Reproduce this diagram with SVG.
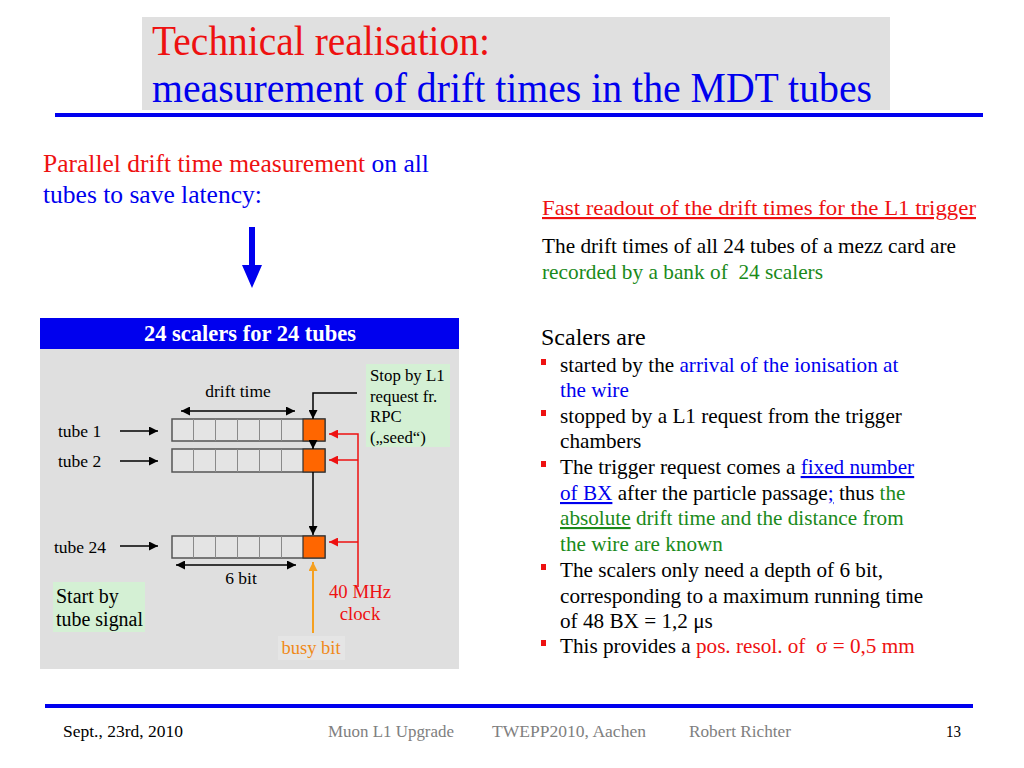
<svg xmlns="http://www.w3.org/2000/svg" width="1024" height="768" viewBox="0 0 1024 768">
<style>
text{font-family:"Liberation Serif","Times New Roman",serif}
.t{font-size:21.2px;fill:#000}
.bl{fill:#0000ee}
.gr{fill:#1a8a1a}
.rd{fill:#ee1111}
.u{text-decoration:underline}
.pre{white-space:pre}
.lbl{font-size:17.5px;fill:#000}
.note{font-size:16.8px;fill:#000}
.cell{fill:#e4e4e4;stroke:#555;stroke-width:1.5}
.div{stroke:#8a8a8a;stroke-width:1}
.org{fill:#ff6600;stroke:#333;stroke-width:1.2}
.blk{stroke:#000;stroke-width:1.5;fill:none}
.red{stroke:#ee1111;stroke-width:1.5;fill:none}
.orl{stroke:#f5a020;stroke-width:2;fill:none}
.ft{font-size:16.5px}
</style>
<defs>
<marker id="ab" viewBox="0 0 10 10" refX="10" refY="5" markerWidth="10" markerHeight="9" markerUnits="userSpaceOnUse" orient="auto-start-reverse"><path d="M0,0 L10,5 L0,10 z" fill="#000"/></marker>
<marker id="ar" viewBox="0 0 10 10" refX="10" refY="5" markerWidth="11" markerHeight="9" markerUnits="userSpaceOnUse" orient="auto"><path d="M0,0 L10,5 L0,10 z" fill="#ee1111"/></marker>
<marker id="ao" viewBox="0 0 10 10" refX="10" refY="5" markerWidth="11" markerHeight="9" markerUnits="userSpaceOnUse" orient="auto"><path d="M0,0 L10,5 L0,10 z" fill="#f5a020"/></marker>
</defs>
<rect width="1024" height="768" fill="#fff"/>

<g id="title">
<rect x="142" y="17" width="748" height="93" fill="#e0e0e0"/>
<text x="152" y="55" font-size="42" fill="#ee1111" textLength="338" lengthAdjust="spacingAndGlyphs">Technical realisation:</text>
<text x="152" y="102" font-size="42" fill="#0000ee" textLength="720" lengthAdjust="spacingAndGlyphs">measurement of drift times in the MDT tubes</text>
</g>
<rect x="55" y="113" width="928" height="4" fill="#0000ee"/>

<g id="intro">
<text x="43" y="172" font-size="25.5"><tspan class="rd">Parallel drift time measurement</tspan><tspan class="bl"> on all</tspan></text>
<text x="43" y="203" font-size="25.5" class="bl">tubes to save latency:</text>
<path d="M249,227 H255 V265 H262 L252,288 L242,265 H249 Z" fill="#0000ee"/>
</g>

<g id="scaler-box">
<rect x="40" y="349" width="419" height="320" fill="#dfdfdf"/>
<rect x="40" y="318" width="419" height="31" fill="#0000ee"/>
<text x="250" y="341" font-size="22.5" font-weight="bold" fill="#fff" text-anchor="middle">24 scalers for 24 tubes</text>
</g>

<g id="stop-note">
<rect x="366" y="364" width="84" height="83" fill="#d4f0d4"/>
<text class="note" x="370" y="381">Stop by L1</text>
<text class="note" x="370" y="402">request fr.</text>
<text class="note" x="370" y="422">RPC</text>
<text class="note" x="370" y="443">(„seed“)</text>
</g>

<g id="start-note">
<rect x="53" y="582" width="92" height="50" fill="#d4f0d4"/>
<text x="56" y="603" font-size="20">Start by</text>
<text x="56" y="626" font-size="20" textLength="87" lengthAdjust="spacingAndGlyphs">tube signal</text>
</g>

<g id="scaler-1">
<rect class="cell" x="172" y="419" width="153" height="22"/>
<path class="div" d="M193.5,419V441M215.5,419V441M237.5,419V441M259.5,419V441M281.5,419V441"/>
<rect class="org" x="303" y="419" width="22" height="22"/>
<text class="lbl" x="58" y="437">tube 1</text>
</g>
<g id="scaler-2">
<rect class="cell" x="172" y="449" width="153" height="23"/>
<path class="div" d="M193.5,449V472M215.5,449V472M237.5,449V472M259.5,449V472M281.5,449V472"/>
<rect class="org" x="303" y="449" width="22" height="23"/>
<text class="lbl" x="58" y="467">tube 2</text>
</g>
<g id="scaler-24">
<rect class="cell" x="172" y="536" width="153" height="22"/>
<path class="div" d="M193.5,536V558M215.5,536V558M237.5,536V558M259.5,536V558M281.5,536V558"/>
<rect class="org" x="303" y="536" width="22" height="22"/>
<text class="lbl" x="54" y="553">tube 24</text>
</g>

<g id="clock-label">
<text x="360" y="598" font-size="18.8" fill="#ee1111" text-anchor="middle">40 MHz</text>
<text x="360" y="620" font-size="18.8" fill="#ee1111" text-anchor="middle">clock</text>
</g>
<g id="busy-label">
<rect x="278" y="636" width="67" height="24" fill="#e5e5e5"/>
<text x="311" y="654" font-size="18.5" fill="#f08a1a" text-anchor="middle">busy bit</text>
</g>
<g id="dim-labels">
<text class="lbl" x="238" y="397" text-anchor="middle">drift time</text>
<text class="lbl" x="241" y="584" text-anchor="middle">6 bit</text>
</g>

<g id="connectors">
<path class="blk" d="M120,431 H158" marker-end="url(#ab)"/>
<path class="blk" d="M120,461 H158" marker-end="url(#ab)"/>
<path class="blk" d="M120,546 H158" marker-end="url(#ab)"/>
<path class="blk" d="M357,393 H313 V419" marker-end="url(#ab)"/>
<path class="blk" d="M313,441 V449" marker-end="url(#ab)"/>
<path class="blk" d="M313,472 V535" marker-end="url(#ab)"/>
<path class="blk" d="M181,411 H295" marker-start="url(#ab)" marker-end="url(#ab)"/>
<path class="blk" d="M176,565 H296" marker-start="url(#ab)" marker-end="url(#ab)"/>
<path class="red" d="M358,587 V434 H329" marker-end="url(#ar)"/>
<path class="red" d="M358,460 H329" marker-end="url(#ar)"/>
<path class="red" d="M358,542 H329" marker-end="url(#ar)"/>
<path class="orl" d="M313,633 V562" marker-end="url(#ao)"/>
</g>

<g id="readout-text">
<text x="542" y="215" font-size="21.5" class="rd u" textLength="434" lengthAdjust="spacingAndGlyphs">Fast readout of the drift times for the L1 trigger</text>
<text x="542" y="253" font-size="21.2" textLength="414" lengthAdjust="spacingAndGlyphs">The drift times of all 24 tubes of a mezz card are</text>
<text x="542" y="279" font-size="21.2" class="gr pre" textLength="281" lengthAdjust="spacingAndGlyphs">recorded by a bank of  24 scalers</text>
</g>

<g id="scalers-list">
<text x="541" y="345" font-size="24">Scalers are</text>
<g fill="#ee1111">
<rect x="541" y="359" width="5" height="6"/>
<rect x="541" y="410" width="5" height="6"/>
<rect x="541" y="461" width="5" height="6"/>
<rect x="541" y="564" width="5" height="6"/>
<rect x="541" y="640" width="5" height="6"/>
</g>
<text class="t" x="560" y="372">started by the <tspan class="bl">arrival of the ionisation at</tspan></text>
<text class="t bl" x="560" y="397">the wire</text>
<text class="t" x="560" y="423">stopped by a L1 request from the trigger</text>
<text class="t" x="560" y="448">chambers</text>
<text class="t" x="560" y="474">The trigger request comes a <tspan class="bl u">fixed number</tspan></text>
<text class="t" x="560" y="500"><tspan class="bl u">of BX</tspan> after the particle passage<tspan class="bl u">;</tspan> thus <tspan class="gr">the</tspan></text>
<text class="t gr" x="560" y="525"><tspan class="u">absolute</tspan> drift time and the distance from</text>
<text class="t gr" x="560" y="551">the wire are known</text>
<text class="t" x="560" y="577">The scalers only need a depth of 6 bit,</text>
<text class="t" x="560" y="603">corresponding to a maximum running time</text>
<text class="t" x="560" y="628">of 48 BX = 1,2 μs</text>
<text class="t pre" x="560" y="653">This provides a <tspan class="rd">pos. resol. of  σ = 0,5 mm</tspan></text>
</g>

<g id="footer">
<rect x="45" y="704" width="928" height="4" fill="#0000ee"/>
<text class="ft" x="63" y="737" fill="#000" textLength="120" lengthAdjust="spacingAndGlyphs">Sept., 23rd, 2010</text>
<text class="ft" x="328" y="737" fill="#808080" textLength="126" lengthAdjust="spacingAndGlyphs">Muon L1 Upgrade</text>
<text class="ft" x="492" y="737" fill="#808080" textLength="154" lengthAdjust="spacingAndGlyphs">TWEPP2010, Aachen</text>
<text class="ft" x="689" y="737" fill="#808080" textLength="102" lengthAdjust="spacingAndGlyphs">Robert Richter</text>
<text class="ft" x="946" y="737" fill="#000" textLength="15" lengthAdjust="spacingAndGlyphs">13</text>
</g>
</svg>
